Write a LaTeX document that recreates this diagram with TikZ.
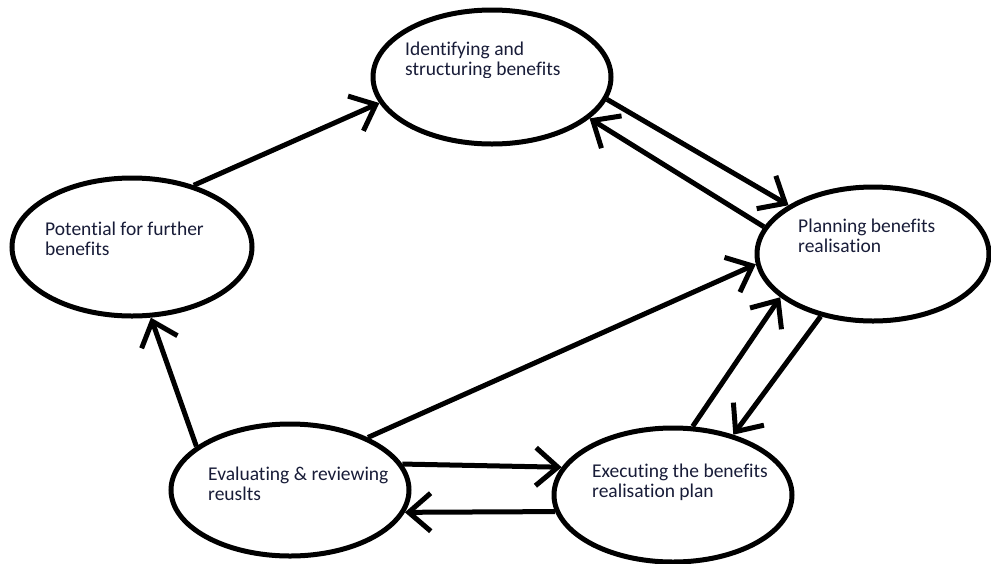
\documentclass[tikz,border=0pt]{standalone}
\usepackage{fontspec}
\setmainfont{Carlito}[Ligatures=NoCommon]
\usetikzlibrary{arrows.meta,shapes.geometric}
\definecolor{txtcol}{RGB}{24,28,56}
\begin{document}
\begin{tikzpicture}[x=1pt,y=-1pt,
  bubble/.style={draw=black, fill=white, line width=5pt, ellipse, inner sep=0pt},
  flow/.style={draw=black, line width=5pt, -{Straight Barb[length=22pt,width=38pt]}},
  txt/.style={anchor=base west, inner sep=0pt, text=txtcol, font=\fontsize{19.5pt}{22pt}\selectfont}]
\useasboundingbox (0,0) rectangle (991,563);
\fill[white] (0,0) rectangle (991,563);

% ellipses
\node[bubble, minimum width=238pt, minimum height=134pt] (A) at (492,77) {};
\node[bubble, minimum width=240pt, minimum height=138pt] (B) at (132,247) {};
\node[bubble, minimum width=232pt, minimum height=134pt] (C) at (873,254) {};
\node[bubble, minimum width=238pt, minimum height=132pt] (D) at (290,490) {};
\node[bubble, minimum width=238pt, minimum height=134pt] (E) at (673,495) {};

% texts
\node[txt] (tA1) at (405,55) {Identifying and};
\begin{scope}
\clip (380,60) rectangle (620,77);
\node[txt] (tA2) at (405,75) {structuring benefits};
\end{scope}
\node[txt] (tB1) at (45,235) {Potential for further};
\node[txt] (tB2) at (45,255) {benefits};
\node[txt] (tC1) at (798,232) {Planning benefits};
\node[txt] (tC2) at (798,252) {realisation};
\node[txt] (tD1) at (208,480) {Evaluating \& reviewing};
\node[txt] (tD2) at (208,500) {reuslts};
\node[txt] (tE1) at (592,477) {Executing the benefits};
\begin{scope}
\clip (585,482) rectangle (790,500);
\node[txt] (tE2) at (592,497) {realisation plan};
\end{scope}

% connectors
\draw[flow] (B.45) -- (A.193.3);
\draw[flow] (A.-11.3) -- (C.150.5);
\draw[flow] (C.166.8) -- (A.-23.8);
\draw[flow] (D.34) -- (C.185.4);
\draw[flow] (E.74) -- (C.205.3);
\draw[flow] (C.230.4) -- (E.45.5);
\draw[flow] (D.13.2) -- (E.166);
\draw[flow] (E.188) -- (D.-11);
\draw[flow] (D.155) -- (B.285);
\end{tikzpicture}
\end{document}
